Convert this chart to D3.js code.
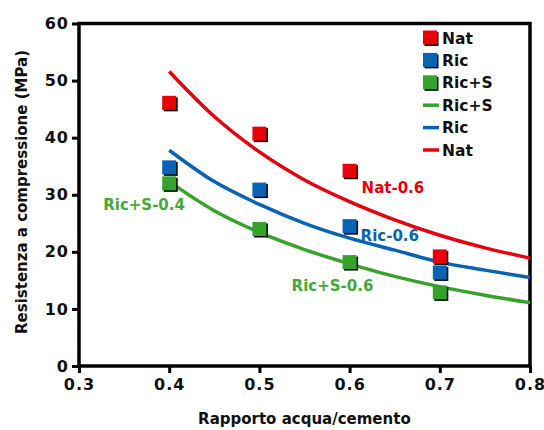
<!DOCTYPE html>
<html>
<head>
<meta charset="utf-8">
<script src="https://cdn.jsdelivr.net/npm/d3@7"></script>
<style>
  body { margin: 0; background: #fff; }
  text { font-family: "DejaVu Sans", sans-serif; font-weight: bold; }
</style>
</head>
<body>
<div class="canvas"></div>
<script>
// data
const ratios = [0.4, 0.5, 0.6, 0.7];
const natPoints = [46.1, 40.7, 34.2, 19.2];
const ricPoints = [34.8, 30.9, 24.5, 16.4];
const ricSPoints = [32.0, 24.0, 18.2, 12.9];

// fitted curves, sampled by eye from the reference
const curveX = [0.4, 0.45, 0.5, 0.55, 0.6, 0.65, 0.7, 0.75, 0.8];
const natCurve = [51.6, 43.7, 37.5, 32.6, 28.8, 25.6, 22.9, 20.7, 18.9];
const ricCurve = [37.8, 32.3, 28.3, 25.0, 22.4, 20.3, 18.2, 16.8, 15.5];
const ricSCurve = [32.3, 27.2, 23.4, 20.4, 17.9, 15.7, 13.9, 12.4, 11.1];

const xTicks = [0.3, 0.4, 0.5, 0.6, 0.7, 0.8];
const yTicks = [0, 10, 20, 30, 40, 50, 60];

const red = '#e8000b';
const blue = '#0863b5';
const green = '#35a32b';

const svg = d3.select('.canvas')
  .append('svg')
    .attr('width', 544)
    .attr('height', 430);

const margin = {top: 23.5, right: 14, bottom: 64, left: 79};
const graphWidth = 544 - margin.left - margin.right;
const graphHeight = 430 - margin.top - margin.bottom;

const graph = svg.append('g')
  .attr('transform', `translate(${margin.left}, ${margin.top})`);

// scales
const x = d3.scaleLinear().domain([0.3, 0.8]).range([0, graphWidth]);
const y = d3.scaleLinear().domain([0, 60]).range([graphHeight, 0]);

// axes
const xAxis = d3.axisBottom(x).tickValues(xTicks).tickFormat(d3.format('.1f'))
  .tickSize(7).tickSizeOuter(0).tickPadding(6);
const yAxis = d3.axisLeft(y).tickValues(yTicks).tickFormat(d3.format('d'))
  .tickSize(7).tickSizeOuter(0).tickPadding(3);

const xAxisGroup = graph.append('g')
  .attr('transform', `translate(0, ${graphHeight})`)
  .call(xAxis);
const yAxisGroup = graph.append('g').call(yAxis);

[xAxisGroup, yAxisGroup].forEach(g => {
  g.selectAll('.domain').remove();
  g.selectAll('line').attr('stroke', '#000').attr('stroke-width', 3);
  g.selectAll('text').attr('fill', '#111')
    .style('font-size', '16px')
    .style('letter-spacing', '1px');
});

// frame
graph.append('rect')
  .attr('width', graphWidth)
  .attr('height', graphHeight)
  .attr('fill', 'none')
  .attr('stroke', '#000')
  .attr('stroke-width', 3.5);

// curves
const line = d3.line()
  .x(d => x(d[0]))
  .y(d => y(d[1]))
  .curve(d3.curveMonotoneX);

const curves = [
  {vals: ricSCurve, color: green},
  {vals: ricCurve, color: blue},
  {vals: natCurve, color: red}
];
curves.forEach(c => {
  graph.append('path')
    .datum(curveX.map((cx, i) => [cx, c.vals[i]]))
    .attr('fill', 'none')
    .attr('stroke', c.color)
    .attr('stroke-width', 3.5)
    .attr('d', line);
});

// markers with a small black shadow
const sq = 14;
const series = [
  {vals: natPoints, color: red},
  {vals: ricPoints, color: blue},
  {vals: ricSPoints, color: green}
];
series.forEach(s => {
  const pts = graph.append('g').selectAll('g')
    .data(ratios.map((r, i) => [r, s.vals[i]]))
    .enter().append('g')
      .attr('transform', d => `translate(${x(d[0])}, ${y(d[1])})`);
  pts.append('rect')
    .attr('x', -sq / 2 + 1.5).attr('y', -sq / 2 + 1.5)
    .attr('width', sq).attr('height', sq)
    .attr('fill', '#000');
  pts.append('rect')
    .attr('x', -sq / 2).attr('y', -sq / 2)
    .attr('width', sq).attr('height', sq)
    .attr('fill', s.color);
});

// annotations
const notes = [
  {text: 'Nat-0.6', x: 0.6, v: 34.2, dx: 12, dy: 22, color: red},
  {text: 'Ric-0.6', x: 0.6, v: 24.5, dx: 11, dy: 15, color: blue},
  {text: 'Ric+S-0.6', x: 0.6, v: 18.2, dx: -58, dy: 29, color: '#3fa93a'},
  {text: 'Ric+S-0.4', x: 0.4, v: 32.0, dx: -66, dy: 27, color: '#3fa93a'}
];
graph.selectAll('.note')
  .data(notes)
  .enter().append('text')
    .attr('class', 'note')
    .attr('x', d => x(d.x) + d.dx)
    .attr('y', d => y(d.v) + d.dy)
    .attr('fill', d => d.color)
    .style('font-size', '15px')
    .text(d => d.text);

// legend
const legendItems = [
  {label: 'Nat', color: red, type: 'square'},
  {label: 'Ric', color: blue, type: 'square'},
  {label: 'Ric+S', color: green, type: 'square'},
  {label: 'Ric+S', color: green, type: 'line'},
  {label: 'Ric', color: blue, type: 'line'},
  {label: 'Nat', color: red, type: 'line'}
];
const legend = svg.append('g').attr('transform', 'translate(423, 38)');
const rows = legend.selectAll('g')
  .data(legendItems)
  .enter().append('g')
    .attr('transform', (d, i) => `translate(0, ${i * 22.4})`);
rows.filter(d => d.type === 'square').append('rect')
  .attr('x', 1.5).attr('y', -6).attr('width', 14).attr('height', 14).attr('fill', '#000');
rows.filter(d => d.type === 'square').append('rect')
  .attr('x', 0).attr('y', -7.5).attr('width', 14).attr('height', 14).attr('fill', d => d.color);
rows.filter(d => d.type === 'line').append('line')
  .attr('x1', 0).attr('x2', 16).attr('y1', 0).attr('y2', 0)
  .attr('stroke', d => d.color).attr('stroke-width', 3.5);
rows.append('text')
  .attr('x', 19).attr('y', 0).attr('dy', '0.36em')
  .attr('fill', '#111')
  .style('font-size', '15.5px')
  .text(d => d.label);

// axis titles
svg.append('text')
  .attr('x', margin.left + x(0.5) + 45)
  .attr('y', 424)
  .attr('text-anchor', 'middle')
  .attr('fill', '#111')
  .style('font-size', '15px')
  .text('Rapporto acqua/cemento');

svg.append('text')
  .attr('transform', 'translate(27, 192) rotate(-90)')
  .attr('text-anchor', 'middle')
  .attr('fill', '#111')
  .style('font-size', '15px')
  .text('Resistenza a compressione (MPa)');
</script>
</body>
</html>
